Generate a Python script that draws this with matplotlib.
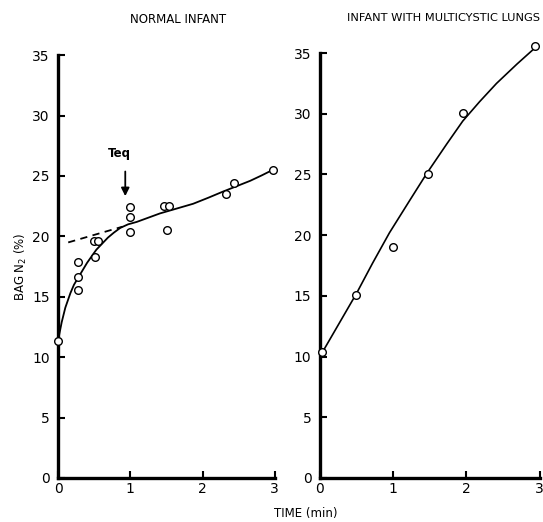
import matplotlib
matplotlib.use('Agg')
import matplotlib.pyplot as plt

plt.rcParams['font.family'] = ['DejaVu Sans']

# Normal infant: measured points
normal_t = [0.0, 0.28, 0.28, 0.28, 0.5, 0.51, 0.55, 1.0, 1.0, 1.0, 1.47, 1.51, 1.54, 2.33, 2.43, 2.97]
normal_n2 = [11.3, 17.9, 16.6, 15.6, 19.6, 18.3, 19.6, 22.4, 21.6, 20.4, 22.5, 20.5, 22.5, 23.5, 24.4, 25.5]
# fitted curve as drawn
normal_fit_t = [0.0, 0.02, 0.05, 0.1, 0.17, 0.22, 0.28, 0.34, 0.4, 0.47, 0.53, 0.61, 0.69, 0.77, 0.86, 0.97,
                1.09, 1.25, 1.41, 1.64, 1.87, 2.08, 2.28, 2.47, 2.66, 2.82, 2.97]
normal_fit_n2 = [11.4, 12.0, 12.9, 14.1, 15.3, 16.0, 16.6, 17.2, 17.8, 18.4, 18.9, 19.4, 19.9, 20.3, 20.7, 21.0,
                 21.2, 21.55, 21.9, 22.3, 22.7, 23.2, 23.7, 24.15, 24.6, 25.05, 25.5]
# extrapolated slow component (dashed)
dash_t = [0.14, 0.89]
dash_n2 = [19.5, 20.8]
teq_t = 0.93

# Infant with multicystic lungs
cyst_t = [0.03, 0.5, 1.0, 1.48, 1.95, 2.93]
cyst_n2 = [10.4, 15.1, 19.0, 25.0, 30.1, 35.6]
cyst_fit_t = [0.02, 0.26, 0.5, 0.72, 0.95, 1.23, 1.46, 1.73, 1.95, 2.18, 2.41, 2.69, 2.93]
cyst_fit_n2 = [10.2, 12.7, 15.2, 17.7, 20.2, 22.9, 25.1, 27.5, 29.4, 31.0, 32.5, 34.1, 35.4]

xticks = [0, 1, 2, 3]
yticks = [0, 5, 10, 15, 20, 25, 30, 35]

fig = plt.figure(figsize=(5.43, 5.22), dpi=100)
ax1 = fig.add_axes([0.107, 0.0843, 0.399, 0.810])
ax2 = fig.add_axes([0.589, 0.0843, 0.405, 0.814])

def style(ax):
    ax.set_xlim(0, 3)
    ax.set_ylim(0, 35)
    ax.set_xticks(xticks)
    ax.set_yticks(yticks)
    for s in ['top', 'right']:
        ax.spines[s].set_visible(False)
    for s in ['left', 'bottom']:
        ax.spines[s].set_linewidth(2.4)
    ax.tick_params(direction='in', length=5, width=1.5, labelsize=10, pad=6)
    ax.tick_params(axis='x', pad=3)

for ax in (ax1, ax2):
    style(ax)

ax1.plot(normal_fit_t, normal_fit_n2, color='black', lw=1.3, clip_on=False)
ax1.plot(dash_t, dash_n2, color='black', lw=1.3, ls=(0, (4, 3)))
ax1.plot(normal_t, normal_n2, 'o', mfc='white', mec='black', ms=5.5, mew=1.0, clip_on=False, zorder=3)
ax1.annotate('', xy=(teq_t, 23.1), xytext=(teq_t, 25.6),
             arrowprops=dict(arrowstyle='-|>', color='black', lw=1.3, mutation_scale=12))
ax1.text(0.85, 26.3, 'Teq', ha='center', va='bottom', fontsize=8.5, fontweight='bold')
ax1.set_ylabel('BAG N$_2$ (%)', fontsize=8.5, labelpad=2)

ax2.plot(cyst_fit_t, cyst_fit_n2, color='black', lw=1.2, clip_on=False)
ax2.plot(cyst_t, cyst_n2, 'o', mfc='white', mec='black', ms=5.5, mew=1.0, clip_on=False, zorder=3)

fig.text(0.328, 0.962, 'NORMAL INFANT', ha='center', va='center', fontsize=8.5)
fig.text(0.816, 0.966, 'INFANT WITH MULTICYSTIC LUNGS', ha='center', va='center', fontsize=8.2)
fig.text(0.563, 0.017, 'TIME (min)', ha='center', va='center', fontsize=8.5)

fig.savefig('out.png', dpi=100)
